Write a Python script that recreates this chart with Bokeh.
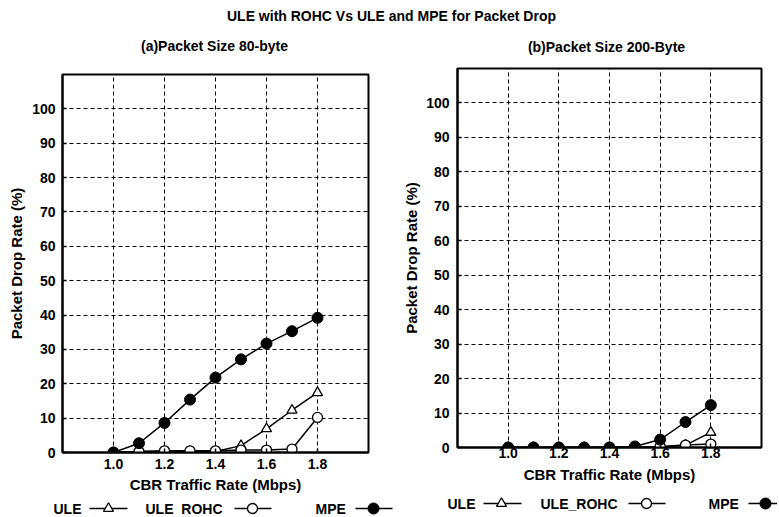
from bokeh.plotting import figure
from bokeh.layouts import column, row
from bokeh.models import Range1d, FixedTicker, Label
from bokeh.core.properties import value
from bokeh.embed import file_html
from bokeh.resources import INLINE

# ---------------- data ----------------
rate = [1.0, 1.1, 1.2, 1.3, 1.4, 1.5, 1.6, 1.7, 1.8]

a_ule = [0, 0.3, 0.3, 0.3, 0.3, 2.0, 6.9, 12.3, 17.4]
a_rohc = [0, 0.3, 0.5, 0.5, 0.5, 0.7, 0.7, 1.0, 10.2]
a_mpe = [0, 2.7, 8.6, 15.4, 21.8, 27.1, 31.7, 35.3, 39.2]

b_ule = [0, 0, 0, 0, 0, 0, 0, 0.7, 4.4]
b_rohc = [0, 0, 0, 0, 0, 0, 0.3, 0.7, 1.0]
b_mpe = [0, 0, 0, 0, 0, 0.3, 2.3, 7.4, 12.3]

x_ticks = [1.0, 1.2, 1.4, 1.6, 1.8]
y_ticks = [0, 10, 20, 30, 40, 50, 60, 70, 80, 90, 100]

main_title = "ULE with ROHC Vs ULE and MPE for Packet Drop"
title_a = "(a)Packet Size 80-byte"
title_b = "(b)Packet Size 200-Byte"
x_label = "CBR Traffic Rate (Mbps)"
y_label = "Packet Drop Rate (%)"
series_names = ["ULE", "ULE_ROHC", "MPE"]

FONT = "Liberation Sans"
FS = "14px"
FS_AX = "15px"
W = 777


def make_panel(ule, rohc, mpe, width, height, bl, br, bt, bb,
               xl_standoff, xal_standoff, yl_standoff, yal_standoff):
    p = figure(width=width, height=height, x_range=Range1d(0.8, 2.0),
               y_range=Range1d(0, 110), output_backend="svg",
               toolbar_location=None, min_border_left=bl, min_border_right=br,
               min_border_top=bt, min_border_bottom=bb)
    p.outline_line_color = "black"
    p.outline_line_width = 2
    p.background_fill_color = "white"
    p.border_fill_color = "white"

    p.xaxis.ticker = FixedTicker(ticks=x_ticks)
    p.yaxis.ticker = FixedTicker(ticks=y_ticks)
    p.xaxis.major_label_overrides = {t: f"{t:.1f}" for t in x_ticks}
    for ax in (p.xaxis, p.yaxis):
        ax.axis_line_color = "black"
        ax.axis_line_width = 2
        ax.major_tick_in = 4
        ax.major_tick_out = 0
        ax.major_tick_line_color = "black"
        ax.major_tick_line_width = 1.5
        ax.minor_tick_line_color = None
        ax.major_label_text_font = FONT
        ax.major_label_text_font_size = FS
        ax.major_label_text_font_style = "bold"
        ax.major_label_text_color = "black"
        ax.axis_label_text_font = FONT
        ax.axis_label_text_font_size = FS_AX
        ax.axis_label_text_font_style = "bold"
        ax.axis_label_text_color = "black"
    p.xaxis.axis_label = x_label
    p.yaxis.axis_label = y_label
    p.xaxis.major_label_standoff = xl_standoff
    p.xaxis.axis_label_standoff = xal_standoff
    p.yaxis.major_label_standoff = yl_standoff
    p.yaxis.axis_label_standoff = yal_standoff

    for g in (p.xgrid, p.ygrid):
        g.grid_line_color = "black"
        g.grid_line_dash = "4 3"
        g.grid_line_width = 1
    p.xgrid.ticker = FixedTicker(ticks=x_ticks)
    p.ygrid.ticker = FixedTicker(ticks=y_ticks[1:])

    p.line(rate, ule, line_color="black", line_width=1.5)
    p.scatter(rate, ule, marker="triangle", size=10, fill_color="white",
              line_color="black", line_width=1.3)
    p.line(rate, rohc, line_color="black", line_width=1.5)
    p.scatter(rate, rohc, marker="circle", size=10, fill_color="white",
              line_color="black", line_width=1.3)
    p.line(rate, mpe, line_color="black", line_width=1.5)
    p.scatter(rate, mpe, marker="circle", size=11, fill_color="black",
              line_color="black")
    return p


def add_legend(lg, yc, text_x, seg_x0, seg_x1, mark_x):
    lg.text(x=text_x, y=[yc] * 3, text=series_names, text_baseline="middle",
            text_align="left", text_font=value(FONT), text_font_size=FS,
            text_font_style="bold", text_color="black")
    lg.segment(x0=seg_x0, y0=[yc] * 3, x1=seg_x1, y1=[yc] * 3,
               line_color="black", line_width=1.5)
    lg.scatter(x=mark_x[0:1], y=[yc], marker="triangle", size=10,
               fill_color="white", line_color="black", line_width=1.3)
    lg.scatter(x=mark_x[1:2], y=[yc], marker="circle", size=10,
               fill_color="white", line_color="black", line_width=1.3)
    lg.scatter(x=mark_x[2:3], y=[yc], marker="circle", size=11,
               fill_color="black", line_color="black")


def strip(height):
    s = figure(width=W, height=height, x_range=Range1d(0, W),
               y_range=Range1d(0, height), output_backend="svg",
               toolbar_location=None, min_border=0,
               x_axis_type=None, y_axis_type=None)
    s.grid.visible = False
    s.outline_line_color = None
    return s


def add_label(s, x, y, text):
    s.add_layout(Label(x=x, y=y, x_units="screen", y_units="screen",
                       text=text, text_align="center", text_baseline="middle",
                       text_font=FONT, text_font_size=FS, text_font_style="bold",
                       text_color="black"))


# title strip (main title and both panel titles)
tf = strip(56)
add_label(tf, 391, 41, main_title)
add_label(tf, 214, 11, title_a)
add_label(tf, 606, 9.5, title_b)

pa = make_panel(a_ule, a_rohc, a_mpe, 400, 439, 62, 32, 18, 43, 6, 4, 7, 4)
pb = make_panel(b_ule, b_rohc, b_mpe, 377, 439, 56, 16, 12, 48, 0, 5, 8, 3)

# legend strip (both legends, pixel coordinates across the page)
lg = strip(20)
add_legend(lg, 7, [53, 145, 315], [89, 234, 355], [127, 271, 392], [108, 252, 373])
add_legend(lg, 12, [447, 540, 708], [483, 628, 748], [521, 665, 785], [501, 646, 765])

layout = column(tf, row(column(pa), column(pb)), lg)

open("out.html", "w").write(file_html(layout, INLINE))
